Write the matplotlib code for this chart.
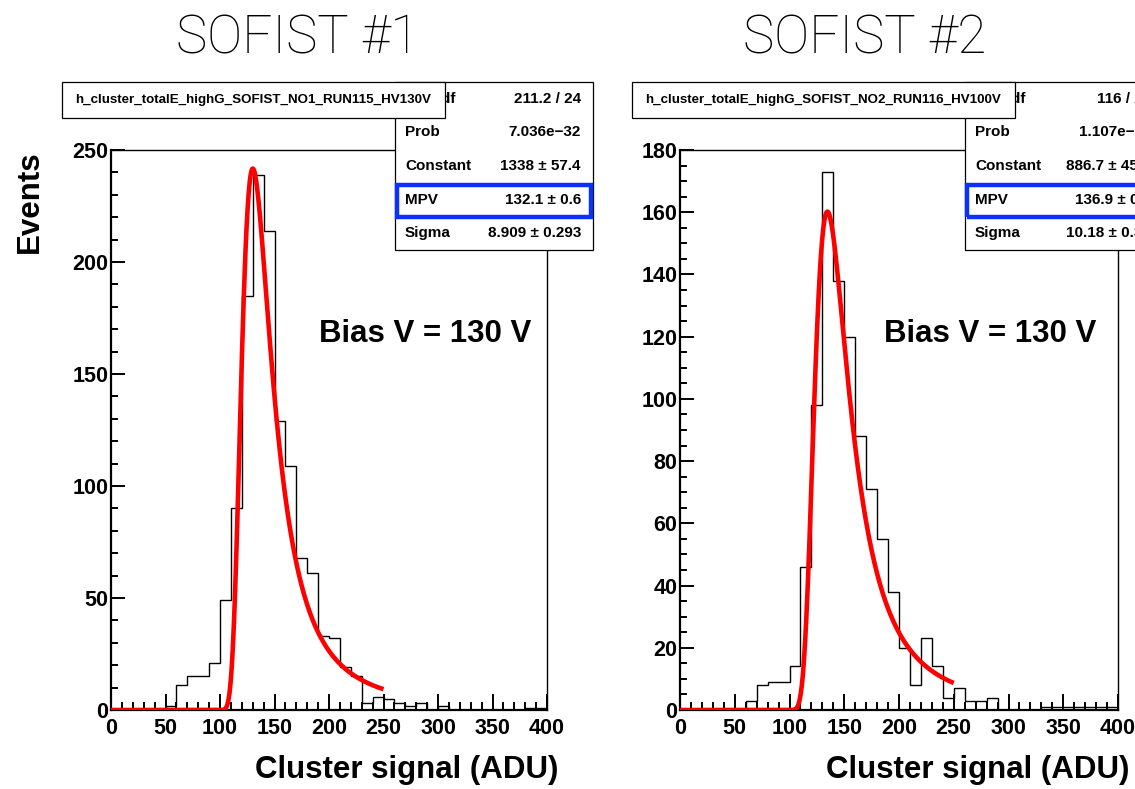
import matplotlib
matplotlib.use("Agg")
import matplotlib.pyplot as plt
from matplotlib.patches import Rectangle
from matplotlib.ticker import MultipleLocator
import numpy as np

plt.rcParams['font.family'] = ['Liberation Sans', 'DejaVu Sans']
plt.rcParams['font.weight'] = 'bold'

# histogram binning (ADU)
edges = np.arange(0, 410, 10)

# SOFIST #1 (RUN115) counts per 10-ADU bin, 0..400
counts1 = [0, 0, 0, 0, 0, 2, 11, 15, 15, 21,
           49, 90, 185, 239, 214, 129, 109, 68, 61, 33,
           32, 19, 15, 3, 6, 5, 3, 2, 3, 0,
           2, 0, 0, 0, 0, 0, 0, 0, 1, 1]

# SOFIST #2 (RUN116) counts per 10-ADU bin, 0..400
counts2 = [0, 0, 0, 0, 0, 0, 3, 8, 9, 9,
           14, 46, 98, 173, 138, 120, 88, 71, 55, 38,
           20, 8, 23, 14, 4, 7, 3, 3, 4, 0,
           0, 0, 0, 1, 1, 1, 1, 1, 1, 1]

# landau fit parameters from the stat boxes
fit1 = dict(const=1338, mpv=132.1, sigma=8.909)
fit2 = dict(const=886.7, mpv=136.9, sigma=10.18)
fit_range = (0, 250)

titles = ["SOFIST #1", "SOFIST #2"]
hist_names = ["h_cluster_totalE_highG_SOFIST_NO1_RUN115_HV130V",
              "h_cluster_totalE_highG_SOFIST_NO2_RUN116_HV100V"]
stat_labels = ["χ² / ndf", "Prob", "Constant", "MPV", "Sigma"]
stat_values1 = ["211.2 / 24", "7.036e−32", "1338 ± 57.4", "132.1 ± 0.6", "8.909 ± 0.293"]
stat_values2 = ["116 / 24", "1.107e−14", "886.7 ± 45.8", "136.9 ± 0.7", "10.18 ± 0.35"]
bias_text = "Bias V = 130 V"


def landau_phi(lam):
    # ROOT style landau density, contour integral through the saddle point
    out = np.zeros(len(lam))
    y = np.linspace(0.0, 60.0, 30001)
    for i, l in enumerate(lam):
        if l < -6:
            continue
        s = np.exp(-1.0 - l) + 1j * y
        f = s * np.log(s) + l * s
        out[i] = np.trapezoid(np.exp(f).real, y) / np.pi
    return out


W, H = 1135, 789
fig = plt.figure(figsize=(W / 100, H / 100), dpi=100)


def fx(x):
    return x / W


def fy(y):
    return 1 - y / H


# axes frames in pixels: (left, right), top, bottom
frames = [(111, 547), (680, 1118)]
top, bottom = 150, 710
ylims = [250, 180]
ymajor = [50, 20]
yminor = [10, 5]
title_x = [298, 865]

for k, (counts, fit) in enumerate([(counts1, fit1), (counts2, fit2)]):
    l, r = frames[k]
    ax = fig.add_axes([fx(l), fy(bottom), (r - l) / W, (bottom - top) / H])
    ax.stairs(counts, edges, color='black', lw=1.0, zorder=2)

    xf = np.linspace(fit_range[0], fit_range[1], 500)
    yf = fit['const'] * landau_phi((xf - fit['mpv']) / fit['sigma'])
    ax.plot(xf, yf, color='#ff0000', lw=3.3, zorder=3, solid_capstyle='butt')

    ax.set_xlim(0, 400)
    ax.set_ylim(0, ylims[k])
    ax.xaxis.set_major_locator(MultipleLocator(50))
    ax.xaxis.set_minor_locator(MultipleLocator(10))
    ax.yaxis.set_major_locator(MultipleLocator(ymajor[k]))
    ax.yaxis.set_minor_locator(MultipleLocator(yminor[k]))
    ax.tick_params(which='both', direction='in', top=False, right=False, width=1.4,
                   labelsize=15.5)
    ax.tick_params(axis='x', which='major', length=11.5, pad=5.5)
    ax.tick_params(axis='x', which='minor', length=5.8)
    ax.tick_params(axis='y', which='major', length=10, pad=2)
    ax.tick_params(axis='y', which='minor', length=5)
    for lab in ax.get_xticklabels() + ax.get_yticklabels():
        lab.set_fontweight('bold')
    for side in ['top', 'right']:
        ax.spines[side].set_linewidth(1.0)
    for side in ['bottom', 'left']:
        ax.spines[side].set_linewidth(1.6)

    ax.text(0.721 if k == 0 else 0.709, 0.671, bias_text, transform=ax.transAxes,
            ha='center', va='center', fontsize=22.5, fontweight='bold')

    # x axis label
    fig.text(fx(r + 11), fy(770), "Cluster signal (ADU)", ha='right', va='center',
             fontsize=22.5, fontweight='bold')

    # big title
    fig.text(fx(title_x[k]), fy(53), titles[k],
             ha='center', va='baseline', fontsize=38, fontweight='light',
             family=['Roboto', 'Lato', 'DejaVu Sans'])

    # stat box
    offset = 570 * k
    bx0, bx1 = 395 + offset, 593 + offset
    by0, by1 = 82, 250
    fig.patches.append(Rectangle((fx(bx0), fy(by1)), (bx1 - bx0) / W, (by1 - by0) / H,
                                 transform=fig.transFigure, facecolor='white',
                                 edgecolor='black', lw=0.9, zorder=5))
    vals = stat_values1 if k == 0 else stat_values2
    row_h = (by1 - by0) / 5
    for i, (lab, val) in enumerate(zip(stat_labels, vals)):
        yc = by0 + row_h * (i + 0.5)
        fig.text(fx(bx0 + 10), fy(yc), lab, ha='left', va='center',
                 fontsize=11, fontweight='bold', zorder=6)
        fig.text(fx(bx1 - 12), fy(yc), val, ha='right', va='center',
                 fontsize=11, fontweight='bold', zorder=6)
    # highlighted MPV row
    fig.patches.append(Rectangle((fx(bx0 + 2), fy(216.7)), (bx1 - bx0 - 4) / W,
                                 (216.7 - 185.5) / H, transform=fig.transFigure,
                                 facecolor='none', edgecolor='#0a32ff', lw=3.2, zorder=7))

    # histogram title box
    tx0 = 62 + offset
    tx1 = tx0 + 383
    fig.patches.append(Rectangle((fx(tx0), fy(118)), (tx1 - tx0) / W, 36 / H,
                                 transform=fig.transFigure, facecolor='white',
                                 edgecolor='black', lw=0.9, zorder=8))
    fig.text(fx((tx0 + tx1) / 2), fy(100), hist_names[k], ha='center', va='center',
             fontsize=9.6, fontweight='bold', zorder=9)

fig.text(fx(30), fy(150), "Events", rotation=90, ha='center', va='top',
         fontsize=22.5, fontweight='bold')

fig.savefig("out.png", dpi=100)
